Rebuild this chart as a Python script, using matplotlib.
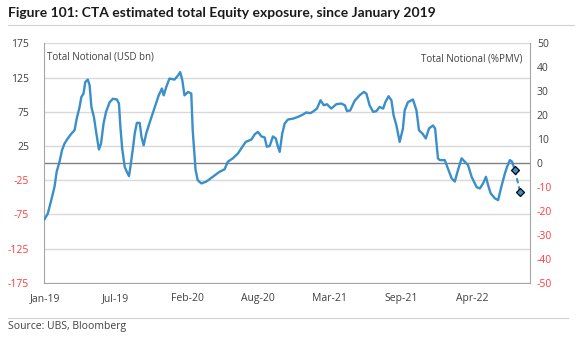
import pandas as pd
import matplotlib
matplotlib.use("Agg")
import matplotlib.pyplot as plt
import matplotlib.dates as mdates
from matplotlib.lines import Line2D

# days since 2 Jan 2019 and CTA total notional (USD bn)
days = [0, 9, 19, 28, 34, 42, 49, 56, 65, 75, 84, 90, 98, 103, 109, 114, 121, 126,
        131, 138, 145, 152, 158, 165, 172, 182, 191, 202, 208, 212, 217, 224, 230,
        236, 240, 247, 252, 258, 266, 271, 277, 284, 293, 307, 319, 328, 333, 340,
        349, 363, 373, 379, 385, 391, 401, 410, 414, 422, 428, 438, 452, 470, 489,
        503, 512, 526, 540, 553, 562, 578, 587, 596, 606, 615, 621, 629, 638, 646,
        652, 657, 664, 671, 680, 694, 708, 722, 731, 743, 752, 761, 771, 780, 789,
        801, 815, 829, 839, 845, 854, 866, 880, 892, 899, 908, 918, 927, 936, 946,
        952, 961, 969, 975, 983, 992, 1001, 1006, 1015, 1029, 1039, 1046, 1056,
        1065, 1074, 1085, 1091, 1099, 1104, 1118, 1127, 1137, 1146, 1155, 1165,
        1174, 1183, 1193, 1207, 1216, 1225, 1233, 1239, 1246, 1258, 1267, 1276,
        1286, 1292, 1300, 1306, 1314]
notional = [-82, -74, -54, -34.5, -12.6, 2, 19, 28.7, 36, 43, 48, 65, 82, 96.6, 101.6,
            118.5, 122, 113.7, 82, 67.5, 43, 20, 28.7, 58, 75, 89, 94, 93, 87, 53,
            21.4, -5.4, -12.6, -19, -5.4, 21.4, 43, 58.8, 58.8, 38, 26, 43, 58, 80,
            99, 109, 99, 111, 123.5, 122, 128, 133, 121, 99, 104, 101.6, 48, -10,
            -25, -29.6, -27, -20, -12.6, -9, 2, 7, 14, 24, 31, 34.5, 42, 45.6, 39,
            37.5, 24, 25, 39, 36, 24, 16.5, 43, 58, 63.7, 65, 67.5, 71, 74, 73, 76,
            79.7, 91.8, 84.5, 86, 79.7, 86, 87, 84.5, 76, 77, 90.8, 99, 104, 101.6,
            84.5, 74.8, 76, 82, 79.7, 89, 97.7, 91.8, 70, 55, 31, 50, 77, 89, 93, 77,
            48, 43, 36, 50.6, 55, 50.6, 7, 4.4, 4.4, -8, -22, -27, -10, 7, 2, -3,
            -20, -35, -37, -29.6, -20, -32, -44, -51.5, -54, -34.5, -15, -5.4, 4.4,
            2, -10.2]

# projected points (diamond markers)
proj_days = [1314, 1328]
proj_notional = [-10.2, -41.5]

start = pd.Timestamp("2019-01-02")
dates = start + pd.to_timedelta(days, unit="D")
proj_dates = start + pd.to_timedelta(proj_days, unit="D")

tick_days = [0, 199, 398, 597, 796, 995, 1194]
left_ticks = [175, 125, 75, 25, -25, -75, -125, -175]
right_ticks = [50, 40, 30, 20, 10, 0, -10, -20, -30, -40, -50]

blue = "#3a8fc9"
red = "#ff3b3b"
txt = "#404040"

plt.rcParams["font.family"] = ["Open Sans", "DejaVu Sans"]

fig = plt.figure(figsize=(5.77, 3.55), dpi=100)
ax = fig.add_axes([0.0771, 0.203, 0.8414, 0.675])

for v in left_ticks:
    ax.axhline(v, color="#d9d9d9", lw=1.0, zorder=0)
ax.axhline(0, color="#808080", lw=1.0, zorder=1)

ax.plot(dates, notional, color=blue, lw=1.7, zorder=3)
ax.plot(proj_dates, proj_notional, color=blue, lw=1.5, ls=(0, (2.5, 1.5)), zorder=3)
ax.plot(proj_dates, proj_notional, ls="none", marker="D", ms=4.5,
        mfc=blue, mec="black", mew=0.9, zorder=4)

ax.set_ylim(-175, 175)
ax.set_xlim(start, start + pd.Timedelta(days=1356))
ax.set_yticks(left_ticks)
ax.set_yticklabels([str(v) for v in left_ticks])
ax.set_xticks(start + pd.to_timedelta(tick_days, unit="D"))
ax.xaxis.set_major_formatter(mdates.DateFormatter("%b-%y"))
ax.tick_params(axis="both", length=0, labelsize=7.5, colors=txt)
ax.tick_params(axis="y", pad=11)
ax.tick_params(axis="x", pad=7)
for lab, v in zip(ax.get_yticklabels(), left_ticks):
    if v < 0:
        lab.set_color(red)

ax2 = ax.twinx()
ax2.set_ylim(-50, 50)
ax2.set_yticks(right_ticks)
ax2.set_yticklabels([str(v) for v in right_ticks])
ax2.tick_params(axis="y", length=0, labelsize=7.5, colors=txt, pad=5)
for lab, v in zip(ax2.get_yticklabels(), right_ticks):
    if v < 0:
        lab.set_color(red)

for a in (ax, ax2):
    for s in a.spines.values():
        s.set_visible(False)
ax.spines["left"].set_visible(True)
ax.spines["left"].set_color("#a6a6a6")
ax.spines["right"].set_visible(True)
ax.spines["right"].set_color("#a6a6a6")
ax.spines["bottom"].set_visible(True)
ax.spines["bottom"].set_color("#a6a6a6")

ax.text(0.006, 0.965, "Total Notional (USD bn)", transform=ax.transAxes,
        fontsize=7, color=txt, va="top", ha="left")
ax.text(0.985, 0.958, "Total Notional (%PMV)", transform=ax.transAxes,
        fontsize=7, color=txt, va="top", ha="right")

fig.text(0.014, 0.963, "Figure 101: CTA estimated total Equity exposure, since January 2019",
         fontsize=10, fontweight="bold", color="#1a1a1a", va="center", ha="left",
         family=["Lato", "DejaVu Sans"])
fig.add_artist(Line2D([0.014, 0.995], [0.93, 0.93], color="#d0d0d0", lw=0.8))
fig.add_artist(Line2D([0.014, 0.985], [0.103, 0.103], color="#d0d0d0", lw=0.8))
fig.text(0.014, 0.08, "Source: UBS, Bloomberg", fontsize=7.5, color=txt,
         va="center", ha="left")

fig.savefig("out.png", dpi=100)
